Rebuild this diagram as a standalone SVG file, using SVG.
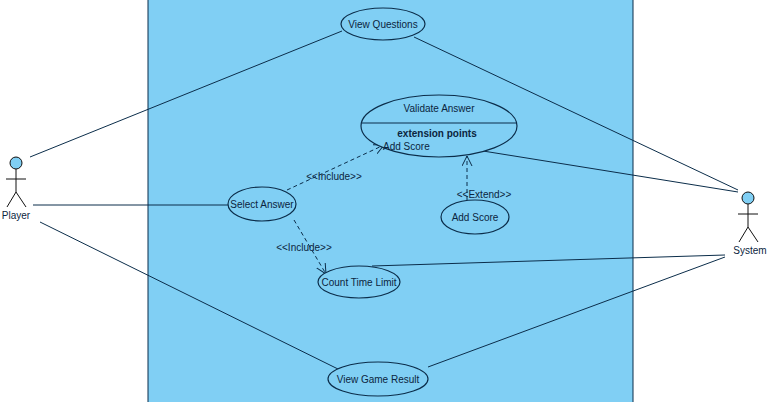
<svg xmlns="http://www.w3.org/2000/svg" width="782" height="402" viewBox="0 0 782 402">
<style>
text{font-family:"Liberation Sans",Arial,sans-serif;font-size:10px;fill:#0b2540}
.uc{fill:#80cff4;stroke:#0b2d4a;stroke-width:1.2}
.ln{stroke:#0b2d4a;stroke-width:1;fill:none}
.ds{stroke:#0b2d4a;stroke-width:1;fill:none;stroke-dasharray:4,3}
.act{stroke:#111;stroke-width:1;fill:none}
</style>
<defs><marker id="open" markerWidth="12" markerHeight="12" refX="10" refY="5" orient="auto" markerUnits="userSpaceOnUse"><path d="M0,0 L10,5 L0,10" fill="none" stroke="#0b2d4a"/></marker></defs>
<rect width="782" height="402" fill="#fff"/>
<rect x="148" y="-2" width="485" height="406" fill="#80cff4" stroke="#0b2d4a"/>
<g id="connectors">
<line class="ln" x1="30" y1="157" x2="342" y2="31"/>
<line class="ln" x1="33" y1="205" x2="228" y2="205"/>
<line class="ln" x1="40" y1="222" x2="340" y2="370"/>
<line class="ln" x1="738" y1="190" x2="414" y2="37"/>
<line class="ln" x1="738" y1="192" x2="483" y2="151"/>
<line class="ln" x1="725" y1="255" x2="372" y2="266"/>
<line class="ln" x1="725" y1="257" x2="428" y2="367"/>
<line class="ds" x1="287" y1="190" x2="384" y2="145" marker-end="url(#open)"/>
<text x="334" y="180" text-anchor="middle">&lt;&lt;Include&gt;&gt;</text>
<line class="ds" x1="294" y1="220" x2="326" y2="274" marker-end="url(#open)"/>
<text x="304" y="251" text-anchor="middle">&lt;&lt;Include&gt;&gt;</text>
<line class="ds" x1="467" y1="200" x2="467" y2="156" marker-end="url(#open)"/>
<text x="484" y="198" text-anchor="middle">&lt;&lt;Extend&gt;&gt;</text>
</g>
<g id="player">
<circle cx="16" cy="163" r="6" fill="#80cff4" stroke="#111"/>
<path class="act" d="M16,169 V192 M6,179 H26 M7,207 L16,192 L26,207"/>
<text x="16" y="219" text-anchor="middle">Player</text>
</g>
<g id="system">
<circle cx="748" cy="198" r="6" fill="#80cff4" stroke="#111"/>
<path class="act" d="M748,204 V227 M738,214 H758 M739,242 L748,227 L758,242"/>
<text x="750" y="254" text-anchor="middle">System</text>
</g>
<g id="viewQuestions"><ellipse class="uc" cx="383" cy="24" rx="42" ry="16"/><text x="383" y="28" text-anchor="middle">View Questions</text></g>
<g id="validateAnswer"><ellipse class="uc" cx="439" cy="126" rx="78" ry="31"/><line class="ln" x1="362" y1="123" x2="517" y2="123"/>
<text x="439" y="112" text-anchor="middle">Validate Answer</text>
<text x="437" y="137" text-anchor="middle" font-weight="bold">extension points</text>
<text x="383" y="150">Add Score</text></g>
<g id="selectAnswer"><ellipse class="uc" cx="262" cy="204" rx="34" ry="17"/><text x="262" y="208" text-anchor="middle">Select Answer</text></g>
<g id="addScore"><ellipse class="uc" cx="475" cy="217" rx="34" ry="17"/><text x="475" y="221" text-anchor="middle">Add Score</text></g>
<g id="countTime"><ellipse class="uc" cx="359" cy="282" rx="41" ry="16"/><text x="359" y="286" text-anchor="middle">Count Time Limit</text></g>
<g id="viewResult"><ellipse class="uc" cx="378" cy="379" rx="50" ry="17"/><text x="378" y="383" text-anchor="middle">View Game Result</text></g>
</svg>
